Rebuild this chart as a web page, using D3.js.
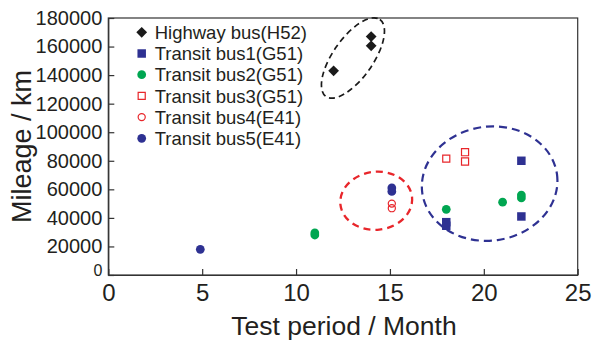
<!DOCTYPE html>
<html>
<head>
<meta charset="utf-8">
<script src="https://cdn.jsdelivr.net/npm/d3@7"></script>
<style>
  html, body { margin: 0; padding: 0; background: #fff; }
  svg { display: block; }
  text { font-family: "Liberation Sans", Arial, Helvetica, sans-serif; fill: #231f20; }
</style>
</head>
<body>
<svg id="chart" width="595" height="345"></svg>
<script>
// Test period (months) and mileage (km) per bus group
const highwayH52 = [[12, 143000], [14, 160500], [14, 167000]];
const transit1G51 = [[18, 34500], [18, 37000], [22, 41000], [22, 80000]];
const transit2G51 = [[11, 28000], [11, 29500], [18, 46000], [21, 51000], [22, 54000], [22, 56000]];
const transit3G51 = [[18, 81500], [19, 79500], [19, 86000]];
const transit4E41 = [[15.1, 46800], [15.1, 50000]];
const transit5E41 = [[4.9, 18000], [15.1, 58500], [15.1, 61000]];

const seriesNames = [
  "Highway bus(H52)", "Transit bus1(G51)", "Transit bus2(G51)",
  "Transit bus3(G51)", "Transit bus4(E41)", "Transit bus5(E41)"
];

const xTicks = [0, 5, 10, 15, 20, 25];
const yTicks = [0, 20000, 40000, 60000, 80000, 100000, 120000, 140000, 160000, 180000];

// Group outlines: centre in data units, radii in pixels, rotation in degrees
const groupOutlines = [
  { cx: 13.03, cy: 152000, rx: 47, ry: 20, rot: -55, color: "#1a1a1a", width: 1.7, dash: "6,4" },
  { cx: 14.27, cy: 52000, rx: 36, ry: 29, rot: -6, color: "#e8262b", width: 2.3, dash: "7,5" },
  { cx: 20.31, cy: 64000, rx: 68, ry: 57, rot: -8, color: "#2e3192", width: 2.2, dash: "8,5" }
];

const margin = { left: 108.3, right: 17.3, top: 18, bottom: 70 };
const W = 595, H = 345;
const svg = d3.select("#chart");

const x = d3.scaleLinear().domain([0, 25]).range([margin.left, W - margin.right]);
const y = d3.scaleLinear().domain([0, 180000]).range([H - margin.bottom, margin.top]);

const axisColor = "#333";

// Frame
svg.append("rect")
  .attr("x", x(0)).attr("y", y(180000))
  .attr("width", x(25) - x(0)).attr("height", y(0) - y(180000))
  .attr("fill", "none").attr("stroke", axisColor).attr("stroke-width", 1.2);

// Axes with inward ticks
const xAxis = svg.append("g")
  .attr("transform", `translate(0,${y(0)})`)
  .call(d3.axisBottom(x).tickValues(xTicks).tickSizeInner(-6).tickSizeOuter(0).tickPadding(9));
xAxis.select(".domain").attr("stroke", axisColor).attr("stroke-width", 1.2);
xAxis.selectAll(".tick line").attr("stroke", axisColor).attr("stroke-width", 1.2);
xAxis.selectAll(".tick text").attr("font-size", 24).attr("fill", "#231f20")
  .attr("font-family", "Liberation Sans, Arial, sans-serif");

const yAxis = svg.append("g")
  .attr("transform", `translate(${x(0)},0)`)
  .call(d3.axisLeft(y).tickValues(yTicks).tickFormat(d3.format("d")).tickSizeInner(-6).tickSizeOuter(0).tickPadding(6));
yAxis.select(".domain").attr("stroke", axisColor).attr("stroke-width", 1.2);
yAxis.selectAll(".tick line").attr("stroke", axisColor).attr("stroke-width", 1.2);
yAxis.selectAll(".tick text").attr("font-size", 20).attr("fill", "#231f20")
  .attr("font-family", "Liberation Sans, Arial, sans-serif");
yAxis.selectAll(".tick text").filter(d => d === 0).attr("font-size", 16).attr("dy", "0.05em");

// Axis titles
svg.append("text")
  .attr("x", 344).attr("y", 335)
  .attr("text-anchor", "middle").attr("font-size", 26.5)
  .text("Test period / Month");
svg.append("text")
  .attr("transform", `translate(31,${(y(0) + y(180000)) / 2}) rotate(-90)`)
  .attr("text-anchor", "middle").attr("font-size", 27)
  .text("Mileage / km");

// Group outlines
svg.append("g").selectAll("ellipse").data(groupOutlines).join("ellipse")
  .attr("transform", d => `translate(${x(d.cx)},${y(d.cy)}) rotate(${d.rot})`)
  .attr("rx", d => d.rx).attr("ry", d => d.ry)
  .attr("fill", "none").attr("stroke", d => d.color)
  .attr("stroke-width", d => d.width).attr("stroke-dasharray", d => d.dash);

// Marker styles (diamond = square turned 45 degrees)
const styles = [
  { data: highwayH52, shape: d3.symbolSquare, size: 58, rot: 45, fill: "#1a1a1a", stroke: "none" },
  { data: transit1G51, shape: d3.symbolSquare, size: 72, rot: 0, fill: "#2e3192", stroke: "none" },
  { data: transit2G51, shape: d3.symbolCircle, size: 60, rot: 0, fill: "#00a651", stroke: "none" },
  { data: transit3G51, shape: d3.symbolSquare, size: 50, rot: 0, fill: "none", stroke: "#e8262b" },
  { data: transit4E41, shape: d3.symbolCircle, size: 40, rot: 0, fill: "none", stroke: "#e8262b" },
  { data: transit5E41, shape: d3.symbolCircle, size: 60, rot: 0, fill: "#2e3192", stroke: "none" }
];

styles.forEach(s => {
  svg.append("g").selectAll("path").data(s.data).join("path")
    .attr("transform", d => `translate(${x(d[0])},${y(d[1])}) rotate(${s.rot})`)
    .attr("d", d3.symbol(s.shape, s.size)())
    .attr("fill", s.fill).attr("stroke", s.stroke).attr("stroke-width", 1.2);
});

// Legend
const legend = svg.append("g").attr("transform", "translate(141.7,32.3)");
styles.forEach((s, i) => {
  const row = legend.append("g").attr("transform", `translate(0,${i * 21.2})`);
  row.append("path")
    .attr("transform", `rotate(${s.rot})`)
    .attr("d", d3.symbol(s.shape, s.size)())
    .attr("fill", s.fill).attr("stroke", s.stroke).attr("stroke-width", 1.2);
  row.append("text")
    .attr("x", 13).attr("dy", "0.36em").attr("font-size", 18.5)
    .text(seriesNames[i]);
});
</script>
</body>
</html>
